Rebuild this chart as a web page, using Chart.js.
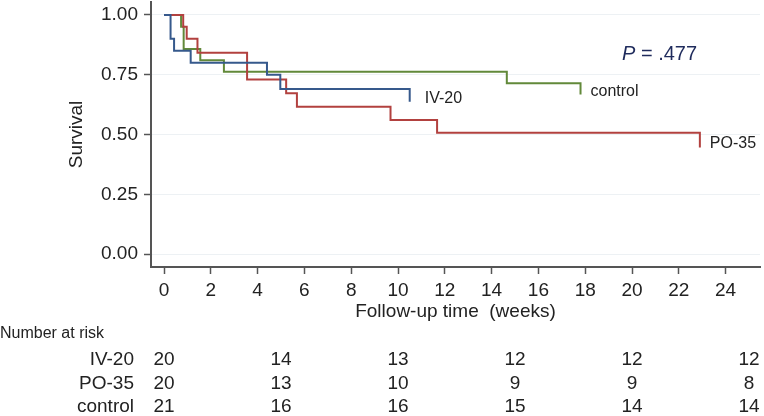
<!DOCTYPE html>
<html>
<head>
<meta charset="utf-8">
<script src="https://cdn.jsdelivr.net/npm/chart.js@4/dist/chart.umd.min.js"></script>
<style>
  body { margin: 0; background: #fff; }
  #wrap { width: 764px; height: 416px; }
</style>
</head>
<body>
<div id="wrap"><canvas id="km"></canvas></div>
<script>
// Kaplan-Meier steps (weeks, survival)
const ivTimes = [0, 0.28, 0.43, 1.14, 4.4, 4.97, 10.5];
const ivSurv = [1, 0.90, 0.85, 0.80, 0.75, 0.69, 0.637];
const poTimes = [0, 0.82, 0.97, 1.43, 3.55, 5.22, 5.68, 9.68, 11.67, 22.9];
const poSurv = [1, 0.95, 0.90, 0.842, 0.73, 0.672, 0.616, 0.561, 0.507, 0.446];
const ctlTimes = [0, 0.73, 0.84, 1.55, 2.56, 14.65, 17.8];
const ctlSurv = [1, 0.95, 0.857, 0.81, 0.762, 0.714, 0.667];

// Number at risk table
const riskTimes = [0, 5, 10, 15, 20, 25];
const groupNames = ['IV-20', 'PO-35', 'control'];
const riskIV = [20, 14, 13, 12, 12, 12];
const riskPO = [20, 13, 10, 9, 9, 8];
const riskCtl = [21, 16, 16, 15, 14, 14];

const xTicks = [0, 2, 4, 6, 8, 10, 12, 14, 16, 18, 20, 22, 24];
const yTicks = [0, 0.25, 0.5, 0.75, 1];

const FONT = '"Liberation Sans", Arial, Helvetica, sans-serif';
const ink = '#222';
const colors = { iv: '#36598c', po: '#b2413f', ctl: '#62893a' };

const toPoints = (ts, ss) => ts.map((t, i) => ({ x: t, y: ss[i] }));

const annotate = {
  id: 'annotate',
  afterDraw(chart) {
    const { ctx, chartArea, scales: { x, y } } = chart;
    ctx.save();
    ctx.fillStyle = ink;

    // axis titles
    ctx.font = '19px ' + FONT;
    ctx.textAlign = 'center';
    ctx.textBaseline = 'middle';
    ctx.save();
    ctx.translate(77, y.getPixelForValue(0.5));
    ctx.rotate(-Math.PI / 2);
    ctx.fillText('Survival', 0, 0);
    ctx.restore();
    ctx.fillText('Follow-up time  (weeks)', (chartArea.left + chartArea.right) / 2, 312);

    // curve labels at the end of each curve
    const ends = [
      ['IV-20', ivTimes, ivSurv, 15],
      ['control', ctlTimes, ctlSurv, 10],
      ['PO-35', poTimes, poSurv, 10],
    ];
    ctx.font = '16px ' + FONT;
    ctx.textAlign = 'left';
    ctx.textBaseline = 'alphabetic';
    ends.forEach(([name, ts, ss, dx]) => {
      const px = x.getPixelForValue(ts[ts.length - 1]) + dx;
      const py = y.getPixelForValue(ss[ss.length - 1]) + 1;
      ctx.fillText(name, px, py);
    });

    // P value
    ctx.fillStyle = '#1f2b5c';
    ctx.font = 'italic 20px ' + FONT;
    ctx.fillText('P', 622, 60);
    const pw = ctx.measureText('P').width;
    ctx.font = '20px ' + FONT;
    ctx.fillText(' = .477', 622 + pw, 60);

    // number at risk
    ctx.fillStyle = ink;
    ctx.font = '16px ' + FONT;
    ctx.textBaseline = 'middle';
    ctx.fillText('Number at risk', 0, 334);
    const rows = [riskIV, riskPO, riskCtl];
    const rowY = [360, 384, 407];
    ctx.font = '19px ' + FONT;
    rows.forEach((vals, r) => {
      ctx.textAlign = 'right';
      ctx.fillText(groupNames[r], 134, rowY[r]);
      ctx.textAlign = 'center';
      vals.forEach((v, i) => ctx.fillText(String(v), x.getPixelForValue(riskTimes[i]), rowY[r]));
    });
    ctx.restore();
  }
};

new Chart(document.getElementById('km'), {
  type: 'line',
  data: {
    datasets: [
      { label: 'IV-20', data: toPoints(ivTimes, ivSurv), borderColor: colors.iv },
      { label: 'PO-35', data: toPoints(poTimes, poSurv), borderColor: colors.po },
      { label: 'control', data: toPoints(ctlTimes, ctlSurv), borderColor: colors.ctl },
    ].map(d => Object.assign(d, { stepped: true, borderWidth: 2, pointRadius: 0, fill: false })),
  },
  options: {
    responsive: true,
    maintainAspectRatio: false,
    animation: false,
    devicePixelRatio: 1,
    layout: { padding: { left: 0, top: 2, right: 4, bottom: 0 } },
    plugins: { legend: { display: false }, tooltip: { enabled: false } },
    scales: {
      x: {
        type: 'linear',
        min: -0.556,
        max: 25.47,
        afterFit: s => { s.height = 149; s.paddingLeft = 0; s.paddingRight = 0; },
        afterBuildTicks: s => { s.ticks = xTicks.map(v => ({ value: v })); },
        border: { display: true, color: '#555', width: 2 },
        grid: { drawOnChartArea: false, drawTicks: true, tickLength: 7, tickColor: '#555', tickWidth: 1.5 },
        ticks: { color: ink, padding: 5, maxRotation: 0, font: { family: FONT, size: 19 } },
      },
      y: {
        min: -0.054,
        max: 1.054,
        afterFit: s => { s.width = 151; s.paddingTop = 0; s.paddingBottom = 0; },
        afterBuildTicks: s => { s.ticks = yTicks.map(v => ({ value: v })); },
        border: { display: true, color: '#555', width: 2 },
        grid: { color: '#edf1f4', lineWidth: 1, drawTicks: true, tickLength: 7, tickColor: '#555', tickWidth: 1.5 },
        ticks: { color: ink, padding: 6, font: { family: FONT, size: 19 }, callback: v => v.toFixed(2) },
      },
    },
  },
  plugins: [annotate],
});
</script>
</body>
</html>
